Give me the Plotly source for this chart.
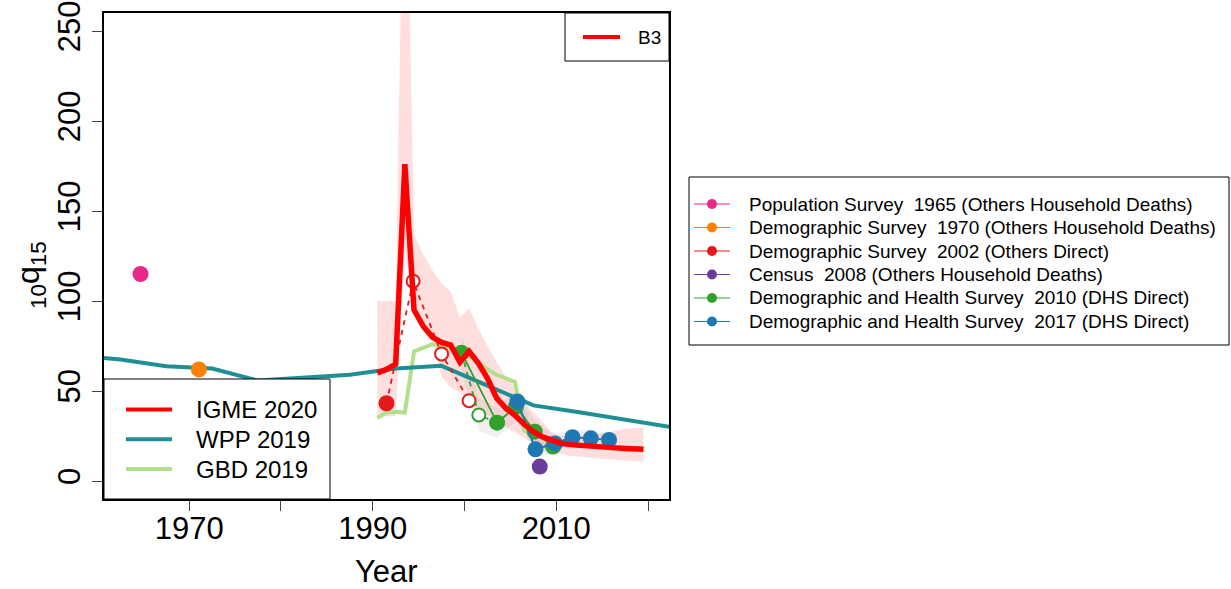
import plotly.graph_objects as go

FONT = "Liberation Sans, Arial, sans-serif"

# ---- IGME 2020 estimate with uncertainty band ----
igme_years = [1990.5, 1991.5, 1992.5, 1993.5, 1994.5, 1995.5, 1996.5, 1997.5, 1998.5, 1999.5,
              2000.5, 2001.5, 2002.5, 2003.5, 2004.5, 2005.5, 2006.5, 2007.5, 2008.5, 2009.5,
              2010.5, 2011.5, 2012.5, 2013.5, 2014.5, 2015.5, 2016.5, 2017.5, 2018.5, 2019.5]
igme_vals = [60, 62, 65, 176, 95, 86, 80, 77, 75.5, 66,
             72, 65.5, 57, 46, 40.5, 36.5, 31.5, 27.4, 24.5, 22.5,
             21, 20.2, 19.7, 19.3, 19, 18.7, 18.4, 18.1, 17.8, 17.6]
igme_lower = [36, 36, 36, 130, 93, 84, 78, 58, 52, 49,
              45, 41, 37, 33, 30, 27, 24, 21, 18.5, 16.5,
              15, 14, 13.5, 13, 12.5, 12, 11.7, 11.3, 11, 10.7]
igme_upper = [100, 100, 100, 400, 137, 126, 117, 110, 105, 91,
              96, 85, 75, 66, 58, 52, 44, 38, 33, 27,
              25, 24.5, 25, 25.5, 26, 27, 28, 29, 29.5, 29.6]

# ---- WPP 2019 (five-year periods) ----
wpp_years = [1952.5, 1957.5, 1962.5, 1967.5, 1972.5, 1977.5, 1982.5, 1987.5,
             1992.5, 1997.5, 2002.5, 2007.5, 2012.5, 2017.5, 2022.5]
wpp_vals = [72, 70, 67.5, 63.8, 62.5, 55.8, 57.4, 59, 62.5, 64, 53, 42, 38.2, 34.2, 30]

# ---- GBD 2019 ----
gbd_years = igme_years
gbd_vals = [35, 38, 38.5, 38, 72, 74, 76, 75.5, 74, 72,
            69, 66, 62, 59, 57, 55, 28, 26, 24, 22.5,
            21.5, 20.8, 20.3, 19.9, 19.5, 19.1, 18.8, 18.5, 18.2, 18]

# ---- Survey / census data series ----
series_names = [
    "Population Survey  1965 (Others Household Deaths)",
    "Demographic Survey  1970 (Others Household Deaths)",
    "Demographic Survey  2002 (Others Direct)",
    "Census  2008 (Others Household Deaths)",
    "Demographic and Health Survey  2010 (DHS Direct)",
    "Demographic and Health Survey  2017 (DHS Direct)",
]
series_colors = ["#E7298A", "#FF7F00", "#E31A1C", "#6A3D9A", "#33A02C", "#1F78B4"]

ps1965_years = [1964.7]
ps1965_vals = [115]
ps1965_used = [True]

ds1970_years = [1971.06]
ds1970_vals = [62]
ds1970_used = [True]

ds2002_years = [1991.5, 1994.4, 1997.5, 2000.5]
ds2002_vals = [43.2, 111, 70.6, 44.6]
ds2002_used = [True, False, False, False]

cen2008_years = [2008.2]
cen2008_vals = [8]
cen2008_used = [True]

dhs2010_years = [1999.67, 2001.56, 2003.55, 2005.6, 2007.66, 2009.65]
dhs2010_vals = [71.3, 36.7, 32.4, 41.3, 27.4, 19.1]
dhs2010_used = [True, False, True, True, True, True]
dhs2010_lo = [60, 28, 24, 33, 21, 13]
dhs2010_hi = [82, 46, 41, 50, 34, 26]

dhs2017_years = [2005.77, 2007.73, 2009.86, 2011.76, 2013.76, 2015.75]
dhs2017_vals = [44.1, 17.6, 20.9, 24.3, 23.7, 22.8]
dhs2017_used = [True, True, True, True, True, True]
dhs2017_lo = [37, 13, 16, 20, 19.5, 18.5]
dhs2017_hi = [51, 23, 26, 28.5, 28, 27]

series = [
    (ps1965_years, ps1965_vals, ps1965_used),
    (ds1970_years, ds1970_vals, ds1970_used),
    (ds2002_years, ds2002_vals, ds2002_used),
    (cen2008_years, cen2008_vals, cen2008_used),
    (dhs2010_years, dhs2010_vals, dhs2010_used),
    (dhs2017_years, dhs2017_vals, dhs2017_used),
]

model_names = ["IGME 2020", "WPP 2019", "GBD 2019"]
model_colors = ["#FF0000", "#1F8F96", "#B2DF8A"]

x_tick_vals = [1970, 1990, 2010]
x_minor_vals = [1980, 2000, 2020]
y_tick_vals = [0, 50, 100, 150, 200, 250]

# ---- figure geometry (pixels) ----
W, H = 1231, 589
L, R, T, B = 104, 669, 13, 499


def px(x):
    return (x - L) / (R - L)


def py(y):
    return (B - y) / (B - T)


fig = go.Figure()

# IGME uncertainty band
fig.add_trace(go.Scatter(
    x=igme_years + igme_years[::-1],
    y=igme_upper + igme_lower[::-1],
    fill="toself", fillcolor="rgba(255,0,0,0.13)",
    line=dict(width=0), mode="lines", hoverinfo="skip", showlegend=False))

# sampling-error bands for DHS series
for yrs, lo, hi in [(dhs2010_years, dhs2010_lo, dhs2010_hi),
                    (dhs2017_years, dhs2017_lo, dhs2017_hi)]:
    fig.add_trace(go.Scatter(
        x=yrs + yrs[::-1], y=hi + lo[::-1],
        fill="toself", fillcolor="rgba(150,150,150,0.14)",
        line=dict(width=0), mode="lines", hoverinfo="skip", showlegend=False))

# GBD and WPP lines
fig.add_trace(go.Scatter(x=gbd_years, y=gbd_vals, mode="lines",
                         line=dict(color=model_colors[2], width=4), showlegend=False))
fig.add_trace(go.Scatter(x=wpp_years, y=wpp_vals, mode="lines",
                         line=dict(color=model_colors[1], width=4), showlegend=False))

# data series: dashed through all points, solid through the points used, markers
for (yrs, vals, used), col in zip(series, series_colors):
    if len(yrs) > 1:
        fig.add_trace(go.Scatter(x=yrs, y=vals, mode="lines",
                                 line=dict(color=col, width=1.8, dash="5px,5px"),
                                 showlegend=False))
        uy = [y for y, u in zip(yrs, used) if u]
        uv = [v for v, u in zip(vals, used) if u]
        if len(uy) > 1:
            fig.add_trace(go.Scatter(x=uy, y=uv, mode="lines",
                                     line=dict(color=col, width=1.8), showlegend=False))
    fy = [y for y, u in zip(yrs, used) if u]
    fv = [v for v, u in zip(vals, used) if u]
    oy = [y for y, u in zip(yrs, used) if not u]
    ov = [v for v, u in zip(vals, used) if not u]
    if fy:
        fig.add_trace(go.Scatter(x=fy, y=fv, mode="markers",
                                 marker=dict(color=col, size=16, line=dict(width=0)),
                                 showlegend=False))
    if oy:
        fig.add_trace(go.Scatter(x=oy, y=ov, mode="markers",
                                 marker=dict(symbol="circle", color="white", size=13,
                                             line=dict(width=2, color=col)),
                                 showlegend=False))

# IGME line on top
fig.add_trace(go.Scatter(x=igme_years, y=igme_vals, mode="lines",
                         line=dict(color=model_colors[0], width=5.5),
                         showlegend=False))

shapes = []
annotations = []

# legend: B3 (top right inside panel)
shapes.append(dict(type="rect", xref="paper", yref="paper",
                   x0=px(565), x1=px(669), y0=py(61), y1=py(13),
                   line=dict(color="black", width=1), fillcolor="white", layer="above"))
shapes.append(dict(type="line", xref="paper", yref="paper",
                   x0=px(583), x1=px(620), y0=py(37), y1=py(37),
                   line=dict(color=model_colors[0], width=4), layer="above"))
annotations.append(dict(text="B3", xref="paper", yref="paper", x=px(636), y=py(37),
                        xanchor="left", yanchor="middle", showarrow=False,
                        font=dict(family=FONT, size=19, color="black")))

# legend: model estimates (bottom left inside panel)
shapes.append(dict(type="rect", xref="paper", yref="paper",
                   x0=px(104), x1=px(330), y0=py(499), y1=py(379),
                   line=dict(color="black", width=1), fillcolor="white", layer="above"))
for i, (nm, col) in enumerate(zip(model_names, model_colors)):
    yy = 409.5 + i * 29.8
    shapes.append(dict(type="line", xref="paper", yref="paper",
                       x0=px(126), x1=px(172), y0=py(yy), y1=py(yy),
                       line=dict(color=col, width=4), layer="above"))
    annotations.append(dict(text=nm, xref="paper", yref="paper", x=px(194), y=py(yy),
                            xanchor="left", yanchor="middle", showarrow=False,
                            font=dict(family=FONT, size=24, color="black")))

# legend: data series (outside, right)
shapes.append(dict(type="rect", xref="paper", yref="paper",
                   x0=px(689), x1=px(1229), y0=py(345), y1=py(177),
                   line=dict(color="black", width=1), fillcolor="white", layer="above"))
for i, (nm, col) in enumerate(zip(series_names, series_colors)):
    yy = 204 + i * 23.5
    shapes.append(dict(type="line", xref="paper", yref="paper",
                       x0=px(694), x1=px(730), y0=py(yy), y1=py(yy),
                       line=dict(color=col, width=1.2), layer="above"))
    shapes.append(dict(type="circle", xref="paper", yref="paper",
                       xsizemode="pixel", ysizemode="pixel",
                       xanchor=px(712), yanchor=py(yy),
                       x0=-5, x1=5, y0=-5, y1=5,
                       line=dict(width=0), fillcolor=col, layer="above"))
    annotations.append(dict(text=nm, xref="paper", yref="paper", x=px(747), y=py(yy),
                            xanchor="left", yanchor="middle", showarrow=False,
                            font=dict(family=FONT, size=19, color="black")))

# axis titles
annotations.append(dict(text="<sub>10</sub>q<sub>15</sub>", xref="paper", yref="paper",
                        x=px(30), y=py(275), xanchor="center", yanchor="middle",
                        textangle=-90, showarrow=False,
                        font=dict(family=FONT, size=32, color="black")))
annotations.append(dict(text="Year", xref="paper", yref="paper",
                        x=0.5, y=py(571), xanchor="center", yanchor="middle",
                        showarrow=False, font=dict(family=FONT, size=31, color="black")))

fig.update_layout(
    width=W, height=H,
    margin=dict(l=L, r=W - R, t=T, b=H - B, pad=0, autoexpand=False),
    plot_bgcolor="white", paper_bgcolor="white",
    showlegend=False,
    shapes=shapes, annotations=annotations,
    font=dict(family=FONT, color="black"),
)
fig.update_xaxes(range=[1960.72, 2022.28], tickmode="array", tickvals=x_tick_vals,
                 ticks="outside", ticklen=10, tickwidth=1, tickcolor="#444",
                 ticklabelstandoff=-9,
                 minor=dict(tickmode="array", tickvals=x_minor_vals, ticks="outside",
                            ticklen=10, tickwidth=1, tickcolor="#444", showgrid=False),
                 showline=True, linecolor="black", linewidth=1.5, mirror=True,
                 showgrid=False, zeroline=False, automargin=False,
                 tickfont=dict(family=FONT, size=31, color="black"))
fig.update_yaxes(range=[-10, 260], tickmode="array", tickvals=y_tick_vals,
                 ticks="outside", ticklen=10, tickwidth=1, tickcolor="#444",
                 tickangle=-90,
                 showline=True, linecolor="black", linewidth=1.5, mirror=True,
                 showgrid=False, zeroline=False, automargin=False,
                 tickfont=dict(family=FONT, size=31, color="black"))

fig.write_html("out.html")
